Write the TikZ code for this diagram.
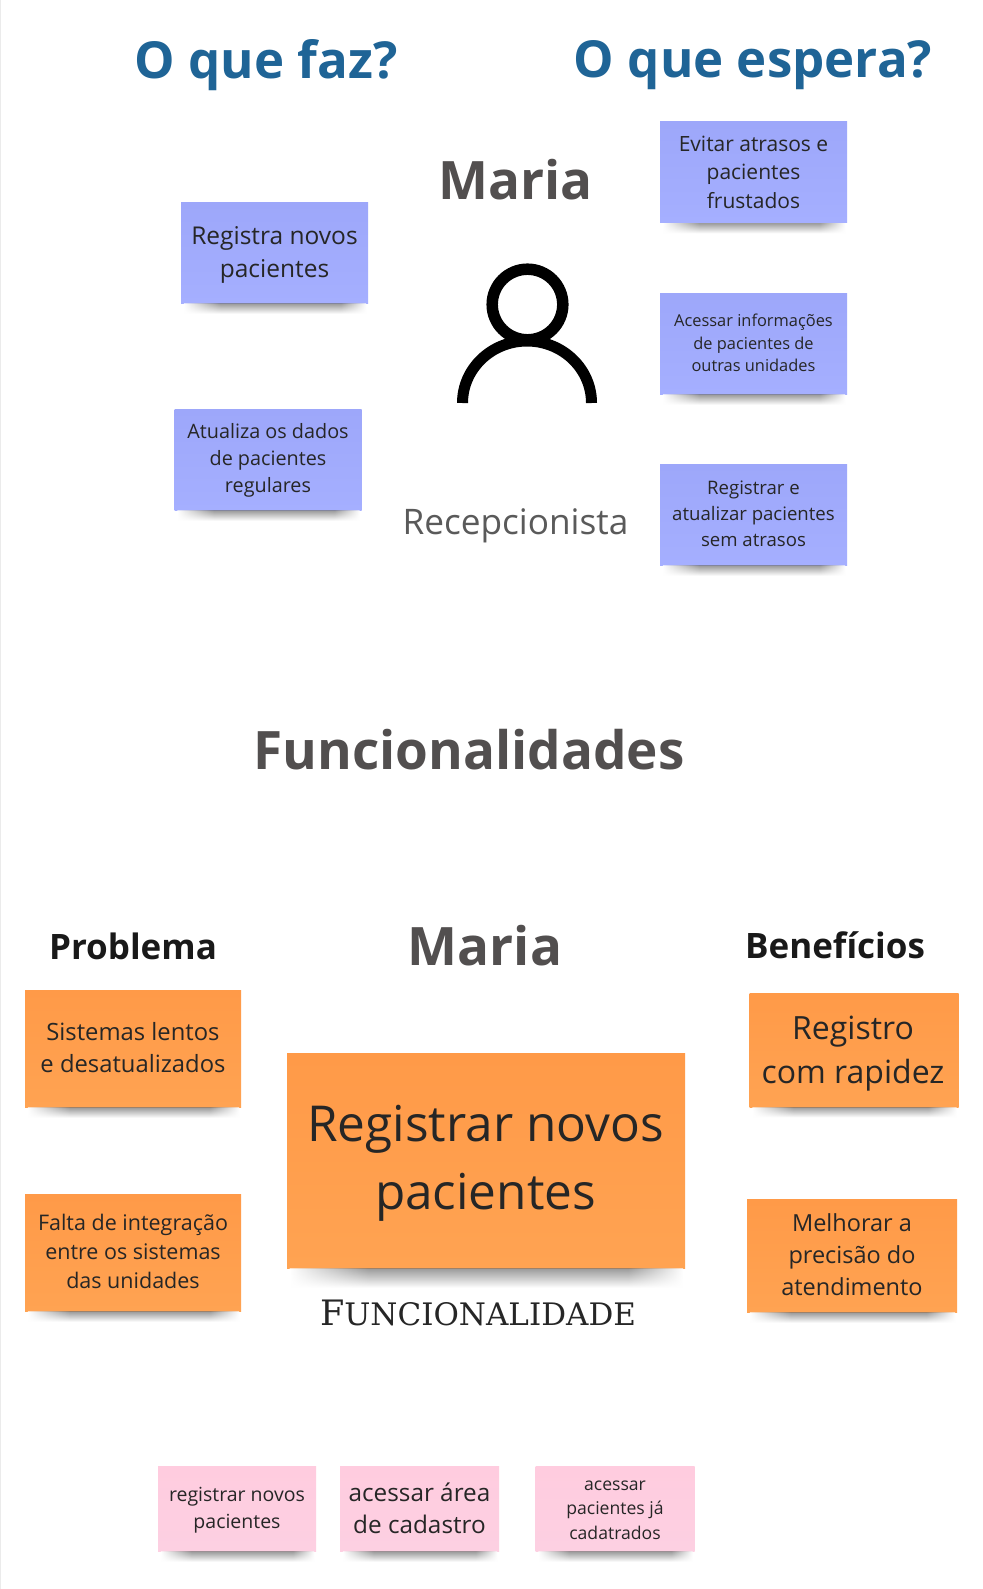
\documentclass[tikz,border=0pt]{standalone}
\usepackage{fontspec}
\setmainfont{Open Sans}
\newfontfamily\slabfont{DejaVu Serif}
\usetikzlibrary{fadings}

\definecolor{titleblue}{HTML}{1F6496}
\definecolor{titlegray}{HTML}{524F4F}
\definecolor{subgray}{HTML}{5A5A5A}
\definecolor{blueA}{HTML}{9DA7FA}
\definecolor{blueB}{HTML}{A5AFFF}
\definecolor{orangeA}{HTML}{FF9A48}
\definecolor{orangeB}{HTML}{FFA352}
\definecolor{pinkA}{HTML}{FFCCDF}
\definecolor{pinkB}{HTML}{FDD0E2}

\pgfdeclarehorizontalshading{stickshade}{100bp}{color(0bp)=(white); color(25bp)=(white); color(35bp)=(black!55); color(68bp)=(black!55); color(75bp)=(white); color(100bp)=(white)}
\tikzfading[name=stickfade, top color=transparent!30, bottom color=transparent!100]

\tikzset{
  sticky/.style={rectangle,inner sep=0pt,minimum width=#1},
  blue note/.style={sticky=187pt,minimum height=101pt,top color=blueA,bottom color=blueB},
  orange note/.style={sticky=#1,top color=orangeA,bottom color=orangeB},
  pink note/.style={sticky=158pt,minimum height=85pt,top color=pinkA,bottom color=pinkB},
  note text/.style={align=center,inner sep=0pt,text=black!85},
  heading/.style={font=\fontsize{51}{60}\selectfont\bfseries,text=titleblue},
  person/.style={font=\fontsize{53}{60}\selectfont\bfseries,text=titlegray},
  column/.style={font=\fontsize{35}{40}\selectfont\bfseries,text=black!90},
}

% soft shadow under the bottom edge of a note
\newcommand{\noteshadow}[2]{
  \path[shading=stickshade,path fading=stickfade,shading angle=0]
    ([xshift=3pt]#1.south west) rectangle ([xshift=-2pt,yshift=-#2pt]#1.south east);
}

\begin{document}
\begin{tikzpicture}[x=1pt,y=-1pt]
  \useasboundingbox (0,0) rectangle (982,1589);
  \fill[white] (0,0) rectangle (982,1589);
  \draw[black!8,line width=1pt] (0.5,0) -- (0.5,1589);

  % top part
  \node[heading] (faz) at (266,65) {O que faz?};
  \node[heading] (espera) at (753,65) {O que espera?};
  \node[person] (maria) at (515.5,180) {Maria};
  \node[font=\fontsize{35.2}{40}\selectfont,text=subgray] (role) at (515.5,526) {Recepcionista};

  \draw[line width=11.5pt] (527.5,304.5) circle (35.3pt);
  \draw[line width=11pt] (462.5,403) arc[start angle=180,end angle=0,x radius=64.5pt,y radius=62pt];

  \node[blue note] (n1) at (274.5,253) {};
  \node[note text,font=\fontsize{24.5}{33}\selectfont] (n1t) at (274.5,255) {Registra novos\\pacientes};
  \node[blue note] (n2) at (268,460) {};
  \node[note text,font=\fontsize{19.8}{27}\selectfont] (n2t) at (268,460) {Atualiza os dados\\de pacientes\\regulares};
  \node[blue note] (e1) at (753.5,172.5) {};
  \node[note text,font=\fontsize{21}{28.5}\selectfont] (e1t) at (753.5,172) {Evitar atrasos e\\pacientes\\frustados};
  \node[blue note] (e2) at (753.5,344) {};
  \node[note text,font=\fontsize{16.4}{22.5}\selectfont] (e2t) at (753.5,343) {Acessar informações\\de pacientes de\\outras unidades};
  \node[blue note] (e3) at (753.5,515) {};
  \node[note text,font=\fontsize{18.6}{26}\selectfont] (e3t) at (753.5,514) {Registrar e\\atualizar pacientes\\sem atrasos};

  \node[person] (func) at (469,750) {Funcionalidades};

  % bottom part
  \node[column] (prob) at (133,946) {Problema};
  \node[person] (maria2) at (485,946) {Maria};
  \node[column] (bene) at (835,945) {Benefícios};

  \node[orange note=216pt,minimum height=117pt] (p1) at (133,1049) {};
  \node[note text,font=\fontsize{23.8}{32}\selectfont] (p1t) at (133,1048) {Sistemas lentos\\e desatualizados};
  \node[orange note=216pt,minimum height=117pt] (p2) at (133,1253) {};
  \node[note text,font=\fontsize{21.5}{29}\selectfont] (p2t) at (133,1251) {Falta de integração\\entre os sistemas\\das unidades};
  \node[orange note=398pt,minimum height=215pt] (main) at (486,1161) {};
  \node[note text,font=\fontsize{49.5}{68}\selectfont] (maint) at (485.5,1163) {Registrar novos\\pacientes};
  \node[orange note=209pt,minimum height=114pt] (b1) at (854,1050) {};
  \node[note text,font=\fontsize{32}{44}\selectfont] (b1t) at (853,1054) {Registro\\com rapidez};
  \node[orange note=210pt,minimum height=113pt] (b2) at (852,1256) {};
  \node[note text,font=\fontsize{23.5}{32}\selectfont] (b2t) at (852,1254.5) {Melhorar a\\precisão do\\atendimento};

  \node[font=\slabfont\fontsize{31}{30}\selectfont,text=black!85] (ftag) at (478,1313) {{\fontsize{35}{30}\selectfont F}UNCIONALIDADE};

  \node[pink note] (t1) at (237,1509) {};
  \node[note text,font=\fontsize{19.5}{27}\selectfont] (t1t) at (237,1510) {registrar novos\\pacientes};
  \node[pink note,minimum width=159pt] (t2) at (419.5,1509) {};
  \node[note text,font=\fontsize{24.3}{32}\selectfont] (t2t) at (419.5,1508) {acessar área\\de cadastro};
  \node[pink note,minimum width=159pt] (t3) at (615,1509) {};
  \node[note text,font=\fontsize{17.6}{24.5}\selectfont] (t3t) at (615,1510) {acessar\\pacientes já\\cadatrados};

  \foreach \n in {n1,n2,e1,e2,e3,p1,p2,b1,b2,t1,t2,t3} {\noteshadow{\n}{10}}
  \noteshadow{main}{19}
\end{tikzpicture}
\end{document}
